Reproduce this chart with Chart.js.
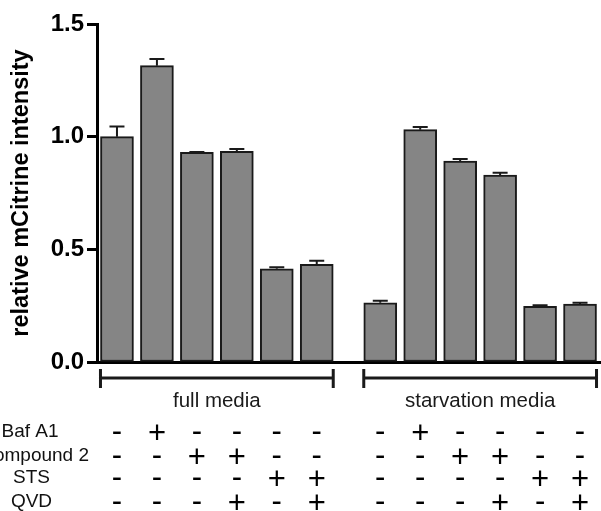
<!DOCTYPE html>
<html lang="en">
<head>
  <meta charset="UTF-8">
  <title>relative mCitrine intensity</title>
  <script src="https://cdn.jsdelivr.net/npm/chart.js"></script>
  <style>
    html, body { margin: 0; padding: 0; background: #fff; }
    #wrap { width: 601px; height: 511px; }
  </style>
</head>
<body>
  <div id="wrap"><canvas id="barChart" width="601" height="511"></canvas></div>

  <script>
    // data
    const groups = ['full media', 'starvation media'];
    const barsPerGroup = 6;
    const values = [1.00, 1.315, 0.93, 0.935, 0.414, 0.434,
                    0.263, 1.031, 0.892, 0.830, 0.247, 0.257];
    const errors = [0.045, 0.030, 0.002, 0.010, 0.006, 0.015,
                    0.009, 0.012, 0.009, 0.010, 0.005, 0.006];
    const yTicks = [0.0, 0.5, 1.0, 1.5];

    // treatment table under the bars
    const rowLabels = ['Baf A1', 'Compound 2', 'STS', 'QVD'];
    const bafA1     = ['-', '+', '-', '-', '-', '-', '-', '+', '-', '-', '-', '-'];
    const compound2 = ['-', '-', '+', '+', '-', '-', '-', '-', '+', '+', '-', '-'];
    const sts       = ['-', '-', '-', '-', '+', '+', '-', '-', '-', '-', '+', '+'];
    const qvd       = ['-', '-', '-', '+', '-', '+', '-', '-', '-', '+', '-', '+'];
    const tableRows = [bafA1, compound2, sts, qvd];

    // layout: bar slots, with a wider gap between the two media groups
    const groupGap = 0.59;
    const slotOf = i => i + (i >= barsPerGroup ? groupGap : 0);
    const points = values.map((v, i) => ({ x: slotOf(i), y: v }));

    const BAR_W = 33;
    const FONT = "'Liberation Sans', Arial, sans-serif";

    // error bars (upper half only, like the original)
    const errorBarPlugin = {
      id: 'errorBars',
      afterDatasetsDraw(chart) {
        const ctx = chart.ctx;
        const xs = chart.scales.x, ys = chart.scales.y;
        ctx.save();
        ctx.strokeStyle = '#1a1a1a';
        ctx.lineWidth = 2;
        values.forEach((v, i) => {
          const x = xs.getPixelForValue(slotOf(i));
          const y0 = ys.getPixelForValue(v);
          const y1 = ys.getPixelForValue(v + errors[i]);
          ctx.beginPath();
          ctx.moveTo(x, y0);
          ctx.lineTo(x, y1);
          ctx.moveTo(x - 7.5, y1);
          ctx.lineTo(x + 7.5, y1);
          ctx.stroke();
        });
        ctx.restore();
      }
    };

    // brackets, group names and the +/- table
    const annotationPlugin = {
      id: 'belowAxis',
      afterDraw(chart) {
        const ctx = chart.ctx;
        const xs = chart.scales.x;
        ctx.save();
        ctx.strokeStyle = '#1a1a1a';
        ctx.fillStyle = '#1a1a1a';
        ctx.lineWidth = 3;

        groups.forEach((g, gi) => {
          const first = gi * barsPerGroup, last = first + barsPerGroup - 1;
          const left = xs.getPixelForValue(slotOf(first)) - BAR_W / 2;
          const right = xs.getPixelForValue(slotOf(last)) + BAR_W / 2;
          ctx.beginPath();
          ctx.moveTo(left, 378); ctx.lineTo(right, 378);
          ctx.moveTo(left, 369); ctx.lineTo(left, 388);
          ctx.moveTo(right, 369); ctx.lineTo(right, 388);
          ctx.stroke();
          ctx.font = '20.5px ' + FONT;
          ctx.textAlign = 'center';
          ctx.textBaseline = 'alphabetic';
          ctx.fillText(g, (left + right) / 2, 407);
        });

        const rowY = [432, 456, 478, 502];
        ctx.fillStyle = '#000';
        ctx.font = '31px ' + FONT;
        ctx.textAlign = 'center';
        tableRows.forEach((row, r) => {
          row.forEach((s, i) => {
            const m = ctx.measureText(s);
            const x = xs.getPixelForValue(slotOf(i));
            const y = rowY[r] + (m.actualBoundingBoxAscent - m.actualBoundingBoxDescent) / 2;
            ctx.fillText(s, x, y);
          });
        });

        ctx.font = '19px ' + FONT;
        ctx.fillStyle = '#111';
        ctx.textBaseline = 'middle';
        rowLabels.forEach((lab, r) => {
          if (r === 1) { ctx.textAlign = 'right'; ctx.fillText(lab, 89, rowY[r]); }
          else { ctx.textAlign = 'center'; ctx.fillText(lab, r === 0 ? 30 : 31.5, rowY[r]); }
        });
        ctx.restore();
      }
    };

    new Chart(document.getElementById('barChart').getContext('2d'), {
      type: 'bar',
      data: {
        datasets: [{
          data: points,
          backgroundColor: '#858585',
          borderColor: '#1a1a1a',
          borderWidth: 2,
          borderSkipped: false,
          barThickness: BAR_W
        }]
      },
      options: {
        responsive: false,
        animation: false,
        layout: { padding: { top: 24, right: 1, left: 0, bottom: 0 } },
        plugins: { legend: { display: false }, tooltip: { enabled: false } },
        scales: {
          x: {
            type: 'linear',
            offset: false,
            min: -0.5,
            max: slotOf(values.length - 1) + 0.5,
            grid: { display: false, drawTicks: false },
            ticks: { display: false },
            border: { display: true, width: 3, color: '#000' },
            afterFit: s => { s.height = 149; }
          },
          y: {
            min: 0,
            max: 1.5,
            afterBuildTicks: s => { s.ticks = yTicks.map(v => ({ value: v })); },
            grid: { display: true, drawOnChartArea: false, drawTicks: true, tickLength: 10, tickWidth: 3, tickColor: '#000' },
            border: { display: true, width: 3, color: '#000' },
            ticks: {
              color: '#000',
              padding: 3,
              font: { family: FONT, size: 24, weight: 'bold' },
              callback: v => Number(v).toFixed(1)
            },
            title: {
              display: true,
              text: 'relative mCitrine intensity',
              color: '#000',
              font: { family: FONT, size: 23.5, weight: 'bold' },
              padding: { top: 7, bottom: 0 }
            },
            afterFit: s => { s.width = 97; }
          }
        }
      },
      plugins: [errorBarPlugin, annotationPlugin]
    });
  </script>
</body>
</html>
